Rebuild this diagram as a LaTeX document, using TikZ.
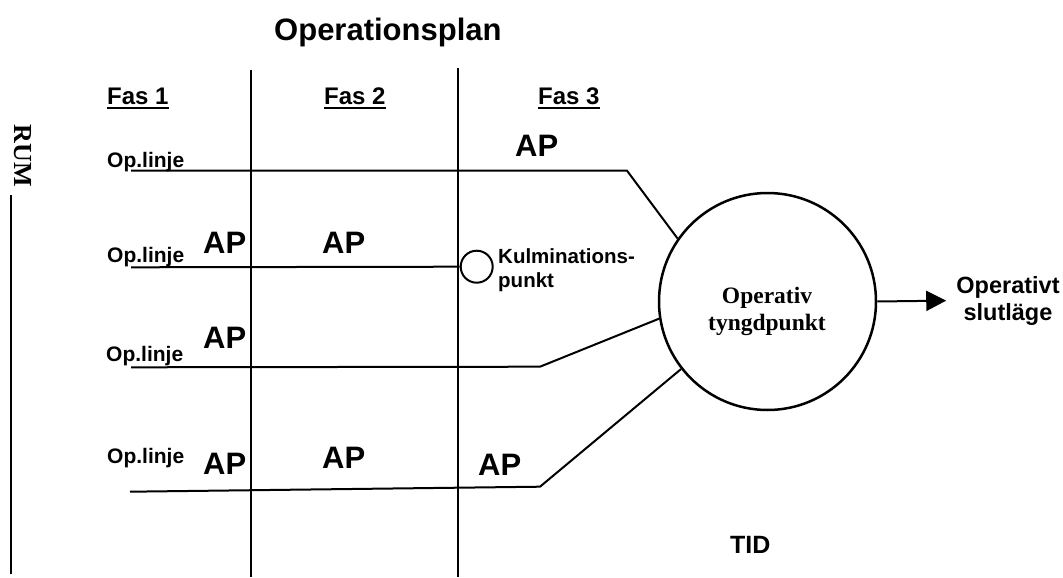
\documentclass[tikz,border=0pt]{standalone}
\usepackage{fontspec}
\setmainfont{Liberation Sans}
\newfontfamily\serifbf{Liberation Serif}
\usetikzlibrary{arrows.meta}
\newcommand\fasul[1]{\setbox0\hbox{#1}\rlap{\rule[-5pt]{\wd0}{2pt}}\box0}

\tikzset{
  txt/.style={inner sep=0pt, anchor=base west},
  oplbl/.style={txt, font=\bfseries\fontsize{21}{24}\selectfont},
  aplbl/.style={txt, font=\bfseries\fontsize{31}{34}\selectfont},
  faslbl/.style={txt, font=\bfseries\fontsize{24}{28}\selectfont},
  opline/.style={line width=2pt},
  phase/.style={line width=2.5pt},
}

\begin{document}
\begin{tikzpicture}[x=1pt, y=-1pt]
			%%%%% START %%%%%
			\useasboundingbox (0,0) rectangle (1063,578);
			
			\node[txt, font=\bfseries\fontsize{31}{34}\selectfont] (title) at (274,40.7) {Operationsplan};
			
			% phase borders
			\coordinate (f1t) at (251,70);
			\coordinate (f1b) at (251,577);
			\coordinate (f2t) at (458,68);
			\coordinate (f2b) at (458,577);
			\draw[phase] (f1t) -- (f1b);
			\draw[phase] (f2t) -- (f2b);
			
			\node[faslbl] (fas1) at (107,104) {\fasul{Fas 1}};
			\node[faslbl] (fas2) at (324,104) {\fasul{Fas 2}};
			\node[faslbl] (fas3) at (538,104) {\fasul{Fas 3}};
			
			% space axis
			\node[inner sep=0pt, rotate=-90, font=\serifbf\bfseries\fontsize{26}{30}\selectfont] (rum) at (23,156) {RUM};
			\coordinate (rt) at (11,195);
			\coordinate (rb) at (11,574);
			\draw[opline] (rt) -- (rb);
			
			\node[txt, font=\bfseries\fontsize{25}{28}\selectfont] (tid) at (730,553) {TID};
			
			% centre of gravity
			\node[draw, circle, line width=2.5pt, minimum size=217pt, inner sep=0pt] (tp) at (767.5,301.5) {};
			\node[inner sep=0pt, align=center, font=\serifbf\bfseries\fontsize{23.5}{27}\selectfont] (tpname) at (767,311) {Operativ\\tyngdpunkt};
			\node[inner sep=0pt, align=center, font=\bfseries\fontsize{23.5}{27}\selectfont] (end) at (1008,300.5) {Operativt\\slutläge};
			\draw[opline, -{Triangle[length=20pt,width=20pt]}, shorten >=10pt] (tp.east) -- (end.west);
			
			% culmination point
			\node[draw, circle, line width=2pt, minimum size=32pt, inner sep=0pt] (kp) at (476.7,266.7) {};
			\node[inner sep=0pt, anchor=north west, align=left, font=\bfseries\fontsize{20.5}{24}\selectfont] (kptxt) at (498,248.3) {Kulminations-\\punkt};
			
			% operation lines
			\coordinate (l1s) at (131,170.7);
			\coordinate (l1k) at (627,170.7);
			\draw[opline] (l1s) -- (l1k) -- (tp.145.6);
			
			\coordinate (l2s) at (131,267.3);
			\draw[opline] (l2s) -- (kp.west);
			
			\coordinate (l3s) at (131,367.3);
			\coordinate (l3k) at (540,366.7);
			\draw[opline] (l3s) -- (l3k) -- (tp.189);
			
			\coordinate (l4s) at (130,491.7);
			\coordinate (l4k) at (540,486.7);
			\draw[opline] (l4s) -- (l4k) -- (tp.218);
			
			\node[oplbl] (op1) at (107,167) {Op.linje};
			\node[oplbl] (op2) at (107,262) {Op.linje};
			\node[oplbl] (op3) at (106,361) {Op.linje};
			\node[oplbl] (op4) at (107,463) {Op.linje};
			
			% decisive points
			\node[aplbl] (ap1c) at (515,156) {AP};
			\node[aplbl] (ap2a) at (203,253) {AP};
			\node[aplbl] (ap2b) at (322,253) {AP};
			\node[aplbl] (ap3a) at (203,348) {AP};
			\node[aplbl] (ap4a) at (203,474) {AP};
			\node[aplbl] (ap4b) at (322,468) {AP};
			\node[aplbl] (ap4c) at (478,475) {AP};
			
			%%%%% END %%%%%
\end{tikzpicture}
\end{document}
